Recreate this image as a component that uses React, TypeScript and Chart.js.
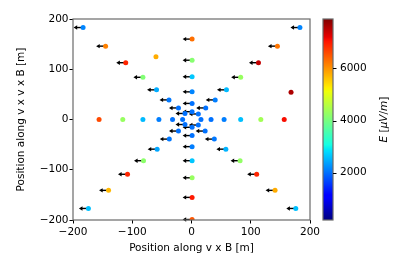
import React, { useEffect, useRef } from "react";
import { Chart, registerables } from "chart.js";

Chart.register(...registerables);

// Antenna positions (m) and field strength E (µV/m); arrowU = arrow x-component (m)
const posX: number[] = [
  // top-left diagonal
  -183, -145, -111, -82, -59, -38, -22, -11,
  // top-right diagonal
  183, 145, 113, 83, 59, 40, 24, 11.5,
  // bottom-left diagonal
  -174, -140, -108, -81, -58, -37.5, -22, -11,
  // bottom-right diagonal
  176, 141, 110, 82, 58, 38.5, 23, 11.5,
  // upper vertical arm
  1, 1, 1, 1, 1, 1,
  // lower vertical arm
  1, 1, 1, 1, 1, 1, 1,
  // horizontal arm
  -156, -116, -82, -55, -32, -15, 16, 33, 55, 83, 117, 156.5,
  // stray points
  -60, 168,
];
const posY: number[] = [
  183, 146, 113, 84, 59, 39, 23, 12,
  183, 146, 113, 84, 59, 39, 23, 11,
  -177, -141, -109, -82, -59, -39, -23, -10,
  -177, -141, -109, -82, -59, -39, -23, -11,
  160, 118, 85, 55, 32, 15.5,
  -15.5, -32, -54, -82, -116, -155, -199,
  0, 0, 0, 0, 0, 0, 0, 0, 0, 0, 0, 0,
  125, 54,
];
const fieldE: number[] = [
  2150, 6150, 6900, 4100, 2450, 2050, 2000, 2000,
  2150, 6250, 7450, 4300, 2550, 2100, 2000, 2000,
  2600, 5700, 6900, 4200, 2400, 2050, 2000, 2000,
  2600, 5800, 6900, 4250, 2500, 2050, 2000, 2000,
  6300, 4150, 2650, 2150, 2000, 2000,
  2000, 2000, 2100, 2650, 4300, 7000, 6500,
  6600, 4300, 2550, 2100, 2000, 2000, 2000, 2000, 2100, 2600, 4400, 7100,
  5800, 7600,
];
const arrowU: number[] = [
  -16, -16, -16, -16, -16, -16, -16, -16,
  -16, -16, -16, -16, -16, -16, -16, -16,
  -16, -16, -16, -16, -16, -16, -16, -16,
  -16, -16, -16, -16, -16, -16, -16, -16,
  -16, -16, -16, -16, -16, -16,
  -16, -16, -16, -16, -16, -16, -16,
  0, 0, 0, 0, 0, 0, 0, 0, 0, 0, 0, 0,
  0, 0,
];

const axisTicks: number[] = [-200, -100, 0, 100, 200];
const colorbarTicks: number[] = [2000, 4000, 6000];
const eMin = 180;
const eMax = 7900;

const FONT = "'DejaVu Sans', sans-serif";

// matplotlib "jet" colormap
const jetR: [number, number][] = [[0, 0], [0.35, 0], [0.66, 1], [0.89, 1], [1, 0.5]];
const jetG: [number, number][] = [[0, 0], [0.125, 0], [0.375, 1], [0.64, 1], [0.91, 0], [1, 0]];
const jetB: [number, number][] = [[0, 0.5], [0.11, 1], [0.34, 1], [0.65, 0], [1, 0]];
function interp(seg: [number, number][], t: number): number {
  for (let i = 1; i < seg.length; i++) {
    if (t <= seg[i][0]) {
      const [t0, v0] = seg[i - 1];
      const [t1, v1] = seg[i];
      return v0 + ((t - t0) / (t1 - t0)) * (v1 - v0);
    }
  }
  return seg[seg.length - 1][1];
}
function jet(v: number): string {
  const t = Math.min(1, Math.max(0, (v - eMin) / (eMax - eMin)));
  const r = Math.round(interp(jetR, t) * 255);
  const g = Math.round(interp(jetG, t) * 255);
  const b = Math.round(interp(jetB, t) * 255);
  return `rgb(${r},${g},${b})`;
}

const fmt = (v: any) => String(v).replace("-", "\u2212");

const framePlugin = {
  id: "frame",
  afterDraw(chart: any) {
    const { ctx, chartArea } = chart;
    ctx.save();
    ctx.strokeStyle = "#6a6a6a";
    ctx.lineWidth = 1.2;
    ctx.strokeRect(chartArea.left, chartArea.top, chartArea.right - chartArea.left, chartArea.bottom - chartArea.top);
    ctx.restore();
  },
};

const arrowPlugin = {
  id: "arrows",
  beforeDatasetsDraw(chart: any) {
    const { ctx } = chart;
    const xs = chart.scales.x;
    const ys = chart.scales.y;
    ctx.save();
    ctx.fillStyle = "#000";
    ctx.strokeStyle = "#000";
    for (let i = 0; i < posX.length; i++) {
      if (!arrowU[i]) continue;
      const x0 = xs.getPixelForValue(posX[i]);
      const y0 = ys.getPixelForValue(posY[i]);
      const x1 = xs.getPixelForValue(posX[i] + arrowU[i]);
      const dir = Math.sign(x1 - x0);
      const headLen = 3.6;
      const headHalf = 2.2;
      ctx.lineWidth = 1.4;
      ctx.beginPath();
      ctx.moveTo(x0, y0);
      ctx.lineTo(x1 - dir * headLen * 0.6, y0);
      ctx.stroke();
      ctx.beginPath();
      ctx.moveTo(x1, y0);
      ctx.lineTo(x1 - dir * headLen, y0 - headHalf);
      ctx.lineTo(x1 - dir * headLen, y0 + headHalf);
      ctx.closePath();
      ctx.fill();
    }
    ctx.restore();
  },
};

const colorbarPlugin = {
  id: "colorbar",
  afterDraw(chart: any) {
    const { ctx } = chart;
    const cb = chart.scales.cb;
    const x0 = 323;
    const w = 10;
    const top = cb.getPixelForValue(eMax);
    const bot = cb.getPixelForValue(eMin);
    ctx.save();
    for (let p = Math.floor(top); p < Math.ceil(bot); p++) {
      const v = cb.getValueForPixel(p + 0.5);
      ctx.fillStyle = jet(v);
      ctx.fillRect(x0, p, w, 1);
    }
    ctx.strokeStyle = "#6a6a6a";
    ctx.lineWidth = 1.2;
    ctx.strokeRect(x0, top, w, bot - top);
    ctx.strokeStyle = "#000";
    ctx.lineWidth = 1;
    for (const t of colorbarTicks) {
      const y = Math.round(cb.getPixelForValue(t)) + 0.5;
      ctx.beginPath();
      ctx.moveTo(x0 + w, y);
      ctx.lineTo(x0 + w + 3.5, y);
      ctx.stroke();
    }
    // label "E [µV/m]" rotated
    const parts: [string, boolean][] = [["E", true], [" [", false], ["\u03bcV", true], ["/", false], ["m", true], ["]", false]];
    const size = 10.5;
    let total = 0;
    const widths: number[] = [];
    for (const [s, it] of parts) {
      ctx.font = `${it ? "italic " : ""}${size}px ${FONT}`;
      const wd = ctx.measureText(s).width;
      widths.push(wd);
      total += wd;
    }
    ctx.translate(384, (top + bot) / 2);
    ctx.rotate(-Math.PI / 2);
    ctx.fillStyle = "#000";
    ctx.textBaseline = "middle";
    ctx.textAlign = "left";
    let cx = -total / 2;
    parts.forEach(([s, it], i) => {
      ctx.font = `${it ? "italic " : ""}${size}px ${FONT}`;
      ctx.fillText(s, cx, 0);
      cx += widths[i];
    });
    ctx.restore();
  },
};

export default function App() {
  const ref = useRef<HTMLCanvasElement>(null);
  useEffect(() => {
    if (!ref.current) return;
    const font = { family: FONT, size: 10.5 };
    const points = posX.map((x, i) => ({ x, y: posY[i] }));
    const chart = new Chart(ref.current, {
      type: "scatter",
      data: {
        datasets: [
          {
            data: points,
            xAxisID: "x",
            yAxisID: "y",
            pointBackgroundColor: fieldE.map(jet),
            pointBorderWidth: 0,
            pointRadius: 2.5,
            pointHoverRadius: 2.5,
          } as any,
        ],
      },
      options: {
        responsive: false,
        animation: false,
        devicePixelRatio: 1,
        events: [],
        layout: { padding: { top: 19, left: 0, right: 0, bottom: 0 } },
        plugins: { legend: { display: false }, tooltip: { enabled: false } },
        scales: {
          x: {
            type: "linear",
            position: "bottom",
            min: -200,
            max: 200,
            afterFit: (s: any) => { s.height = 51; },
            afterBuildTicks: (s: any) => { s.ticks = axisTicks.map((v) => ({ value: v })); },
            ticks: { font, color: "#000", padding: 2, maxRotation: 0, callback: fmt },
            grid: { display: true, drawOnChartArea: false, drawTicks: true, tickLength: 3.5, color: "#000", lineWidth: 1 },
            border: { display: false },
            title: { display: true, text: "Position along v x B [m]", font, color: "#000", padding: { top: 0, bottom: 16.7 } },
          },
          y: {
            type: "linear",
            position: "left",
            min: -200,
            max: 200,
            afterFit: (s: any) => { s.width = 73; },
            afterBuildTicks: (s: any) => { s.ticks = axisTicks.map((v) => ({ value: v })); },
            ticks: { font, color: "#000", padding: 1, callback: fmt },
            grid: { display: true, drawOnChartArea: false, drawTicks: true, tickLength: 3.5, color: "#000", lineWidth: 1 },
            border: { display: false },
            title: { display: true, text: "Position along v x v x B [m]", font, color: "#000", padding: { top: 14.7, bottom: 0 } },
          },
          cb: {
            type: "linear",
            position: "right",
            min: eMin,
            max: eMax,
            afterFit: (s: any) => { s.width = 97; },
            afterBuildTicks: (s: any) => { s.ticks = colorbarTicks.map((v) => ({ value: v })); },
            ticks: { font, color: "#000", padding: 0, callback: (v: any) => String(v) },
            grid: { display: false, drawTicks: true, tickLength: 30 },
            border: { display: false },
          },
        },
      } as any,
      plugins: [arrowPlugin, framePlugin, colorbarPlugin],
    });
    return () => chart.destroy();
  }, []);
  return (
    <div style={{ position: "fixed", left: 0, top: 0, width: 407, height: 271, background: "#fff" }}>
      <canvas ref={ref} width={407} height={271} style={{ width: 407, height: 271, display: "block" }} />
    </div>
  );
}
